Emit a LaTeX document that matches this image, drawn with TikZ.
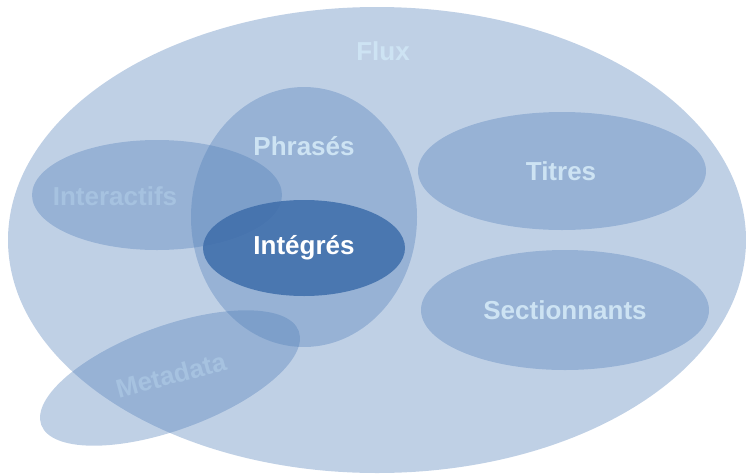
\documentclass[tikz,border=0pt]{standalone}
\usepackage{fontspec}
\setmainfont{Liberation Sans}
\begin{document}
\begin{tikzpicture}[x=1pt,y=-1pt,
  blob/.style={fill=blobblue, fill opacity=0.36, draw=none},
  lbl/.style={font=\bfseries\fontsize{26}{30}\selectfont, text=lbltext},
  faint/.style={font=\bfseries\fontsize{26}{30}\selectfont, text=faintext}]
\definecolor{blobblue}{HTML}{4F7DB8}
\definecolor{lbltext}{HTML}{CDE3F3}
\definecolor{faintext}{HTML}{A6C2E0}
\definecolor{integ}{HTML}{3E6DAA}
\useasboundingbox (0,0) rectangle (746,474);
\fill[blob] (377,240) ellipse [x radius=369, y radius=233];
\node[lbl] (flux) at (383,51) {Flux};
\fill[blob] (157,195) ellipse [x radius=125, y radius=55];
\node[faint] (inter) at (115,196) {Interactifs};
\fill[blob, rotate around={20:(170,378)}] (170,378) ellipse [x radius=137, y radius=52];
\node[faint, rotate=15] (meta) at (171,375) {Metadata};
\fill[blob] (304,217) ellipse [x radius=113, y radius=130];
\node[lbl] (phr) at (304,146) {Phrasés};
\fill[integ, fill opacity=0.85] (304,248) ellipse [x radius=101, y radius=48];
\node[lbl, text=white] (int) at (304,248) {Intégrés};
\fill[blob] (562,171) ellipse [x radius=144, y radius=59];
\node[lbl] (tit) at (561,171) {Titres};
\fill[blob] (565,310) ellipse [x radius=144, y radius=60];
\node[lbl] (sec) at (565,310) {Sectionnants};
\end{tikzpicture}
\end{document}
